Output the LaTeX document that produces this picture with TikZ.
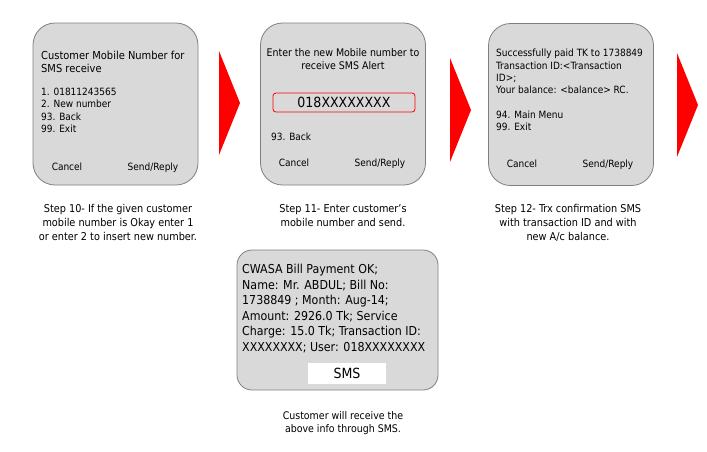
\documentclass[tikz,border=0pt]{standalone}
\usepackage{fontspec}
\setmainfont{DejaVu Sans Condensed}
\usetikzlibrary{positioning}
\definecolor{scr}{RGB}{217,217,217}
\definecolor{rim}{RGB}{127,127,127}
\definecolor{alert}{RGB}{255,0,0}
\newcommand\fsz[2]{\fontsize{#1}{#2}\selectfont}
\tikzset{
  phone/.style={rectangle, rounded corners=22pt, draw=rim, fill=scr, line width=0.8pt,
                minimum width=165pt, minimum height=162pt, inner sep=0pt},
  % big SMS screen
  smsbox/.style={rectangle, rounded corners=15pt, draw=rim, fill=scr, line width=0.8pt,
                 minimum width=201pt, minimum height=140pt, inner sep=0pt},
  inbox/.style={rectangle, rounded corners=3pt, draw=alert, fill=scr, line width=0.8pt,
                minimum width=142pt, minimum height=19pt, inner sep=0pt, font=\fsz{14}{16}},
  txt/.style={inner sep=0pt, anchor=north west, align=left, font=\fsz{10}{12.3}},
  key/.style={inner sep=0pt, anchor=base, font=\fsz{10}{12}},
  captxt/.style={inner sep=0pt, anchor=north, align=center, font=\fsz{10.8}{14}},
  chev/.style={fill=alert}
}
\begin{document}
\begin{tikzpicture}[x=1pt, y=-1pt]
  \useasboundingbox (0,0) rectangle (707,451);

  % screens
  \node[phone] (p1) at (115.5,104) {};
  \node[phone] (p2) at (343,104) {};
  \node[phone] (p3) at (571,104.5) {};

  % step 10 screen
  \node[txt, font=\fsz{11}{13}] (t1) at (41,50.5) {Customer Mobile Number for\\SMS receive};
  \node[txt] (m1) at (41,88) {1. 01811243565\\2. New number\\93. Back\\99. Exit};
  \node[key] (c1) at (67,170.6) {Cancel};
  \node[key] (s1) at (153,170.6) {Send/Reply};

  % step 11 screen
  \node[txt, anchor=north, align=center, font=\fsz{10.5}{12.5}] (t2) at (343,48.5)
    {Enter the new Mobile number to\\receive SMS Alert};
  \node[inbox] (in2) at (344,102.5) {018XXXXXXXX};
  \node[key, anchor=base west] (b2) at (271,140.6) {93. Back};
  \node[key] (c2) at (294,166.6) {Cancel};
  \node[key] (s2) at (380,166.6) {Send/Reply};

  % step 12 screen
  \node[txt] (t3) at (496,49)
    {Successfully paid TK to 1738849\\Transaction ID:<Transaction\\ID>;\\Your balance: <balance> RC.\\[12.3pt]94. Main Menu\\99. Exit};
  \node[key] (c3) at (522,167.6) {Cancel};
  \node[key] (s3) at (608,167.6) {Send/Reply};

  % arrows between screens
  \foreach \ax/\ay in {219/103, 450/110, 677/105}
    \fill[chev] (\ax,\ay-52) -- (\ax+21,\ay) -- (\ax,\ay+52) -- cycle;

  % captions
  \node[captxt] (k1) at (118,204) {Step 10- If the given customer\\mobile number is Okay enter 1\\or enter 2 to insert new number.};
  \node[captxt] (k2) at (343,204) {Step 11- Enter customer’s\\mobile number and send.};
  \node[captxt] (k3) at (568,204) {Step 12- Trx confirmation SMS\\with transaction ID and with\\new A/c balance.};

  % received SMS
  \node[smsbox] (sms) at (337.5,320) {};
  \node[txt, font=\fsz{12.3}{15.5}] (msg) at (242,264)
    {CWASA Bill Payment OK;\\Name: Mr. ABDUL; Bill No:\\1738849 ; Month: Aug-14;\\Amount: 2926.0 Tk; Service\\Charge: 15.0 Tk; Transaction ID:\\XXXXXXXX; User: 018XXXXXXXX};
  \node[fill=white, minimum width=78pt, minimum height=21pt, inner sep=0pt, font=\fsz{14}{16}]
    (tag) at (347,373.5) {SMS};
  \node[captxt, font=\fsz{10.5}{13}] (k4) at (343,411) {Customer will receive the\\above info through SMS.};
\end{tikzpicture}
\end{document}
